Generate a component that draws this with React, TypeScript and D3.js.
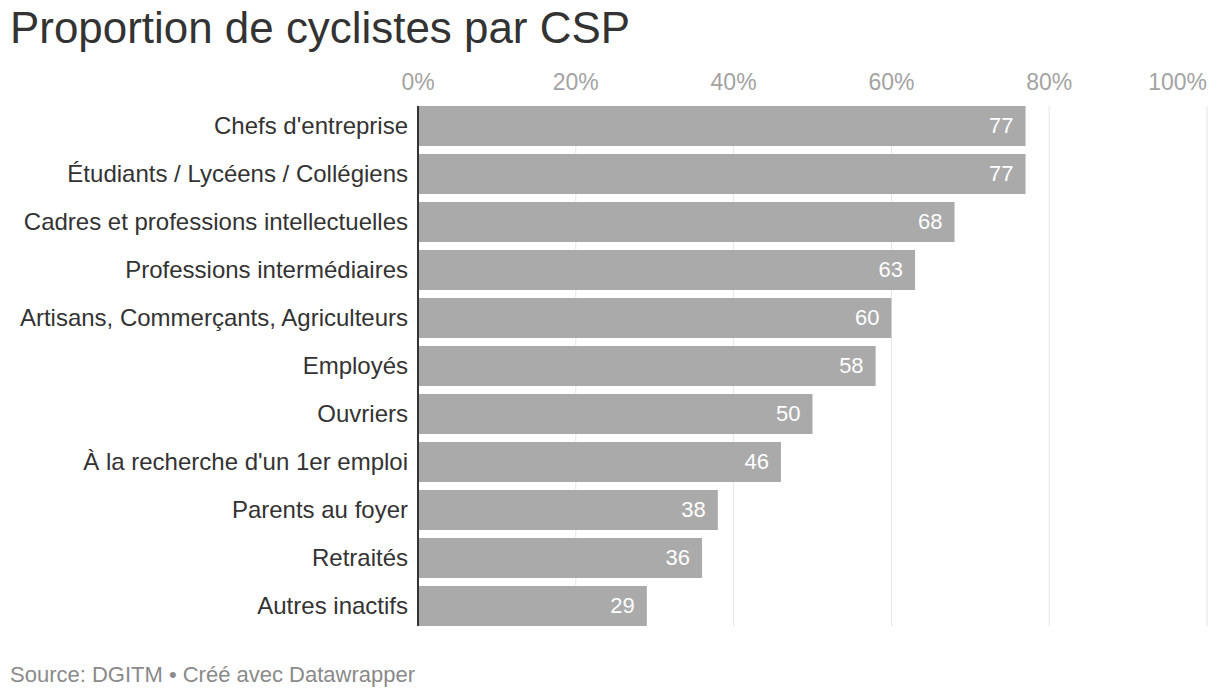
import React, { useEffect, useRef } from 'react'
import * as d3 from 'd3'

const categories = [
  'Chefs d\'entreprise',
  'Étudiants / Lycéens / Collégiens',
  'Cadres et professions intellectuelles',
  'Professions intermédiaires',
  'Artisans, Commerçants, Agriculteurs',
  'Employés',
  'Ouvriers',
  'À la recherche d\'un 1er emploi',
  'Parents au foyer',
  'Retraités',
  'Autres inactifs',
]
const values = [77, 77, 68, 63, 60, 58, 50, 46, 38, 36, 29]
const tickValues = [0, 20, 40, 60, 80, 100]

const title = 'Proportion de cyclistes par CSP'
const footer = 'Source: DGITM • Créé avec Datawrapper'

const W = 1220
const H = 698
const FONT = '"Liberation Sans", Arial, Helvetica, sans-serif'

const CSPChart: React.FC = () => {
  const ref = useRef<SVGSVGElement | null>(null)

  useEffect(() => {
    if (!ref.current) return
    const svg = d3.select(ref.current)
    svg.selectAll('*').remove()

    const x = d3.scaleLinear().domain([0, 100]).range([418, 1207])
    const y = d3
      .scaleBand<string>()
      .domain(categories)
      .range([106, 626])
      .paddingInner(8 / 48)
      .paddingOuter(0)

    const data = categories.map((c, i) => ({ c, v: values[i] }))
    const top = y(categories[0])!
    const bottom = y(categories[categories.length - 1])! + y.bandwidth()

    svg
      .append('text')
      .attr('x', 10)
      .attr('y', 43)
      .attr('font-size', 44)
      .attr('fill', '#333')
      .attr('font-family', FONT)
      .attr('textLength', 620)
      .attr('lengthAdjust', 'spacingAndGlyphs')
      .text(title)

    // gridlines behind the bars
    svg
      .append('g')
      .selectAll('line')
      .data(tickValues.filter(t => t > 0))
      .enter()
      .append('line')
      .attr('x1', d => x(d))
      .attr('x2', d => x(d))
      .attr('y1', top)
      .attr('y2', bottom)
      .attr('stroke', '#e5e5e5')
      .attr('stroke-width', 1)

    // last tick label is right-aligned on its gridline, like datawrapper does
    svg
      .append('g')
      .selectAll('text')
      .data(tickValues)
      .enter()
      .append('text')
      .attr('x', d => x(d))
      .attr('y', 90)
      .attr('text-anchor', (d, i) => (i === tickValues.length - 1 ? 'end' : 'middle'))
      .attr('font-size', 23)
      .attr('fill', '#a3a3a3')
      .attr('font-family', FONT)
      .text(d => `${d}%`)

    const rows = svg
      .append('g')
      .selectAll('g')
      .data(data)
      .enter()
      .append('g')
      .attr('transform', d => `translate(0,${y(d.c)})`)

    rows
      .append('rect')
      .attr('x', x(0))
      .attr('width', d => x(d.v) - x(0))
      .attr('height', y.bandwidth())
      .attr('fill', '#aaaaaa')

    rows
      .append('text')
      .attr('x', d => x(d.v) - 12)
      .attr('y', y.bandwidth() / 2)
      .attr('dy', '0.33em')
      .attr('text-anchor', 'end')
      .attr('font-size', 22)
      .attr('fill', '#ffffff')
      .attr('font-family', FONT)
      .text(d => d.v)

    rows
      .append('text')
      .attr('x', 408)
      .attr('y', y.bandwidth() / 2)
      .attr('dy', '0.33em')
      .attr('text-anchor', 'end')
      .attr('font-size', 24)
      .attr('fill', '#333')
      .attr('font-family', FONT)
      .text(d => d.c)

    svg
      .append('line')
      .attr('x1', x(0))
      .attr('x2', x(0))
      .attr('y1', top)
      .attr('y2', bottom)
      .attr('stroke', '#333')
      .attr('stroke-width', 2)

    svg
      .append('text')
      .attr('x', 10)
      .attr('y', 682)
      .attr('font-size', 22)
      .attr('fill', '#8a8a8a')
      .attr('font-family', FONT)
      .text(footer)
  }, [])

  return <svg ref={ref} width={W} height={H} style={{ display: 'block' }} />
}

export default function App() {
  return (
    <div style={{ margin: -8 }}>
      <CSPChart />
    </div>
  )
}
